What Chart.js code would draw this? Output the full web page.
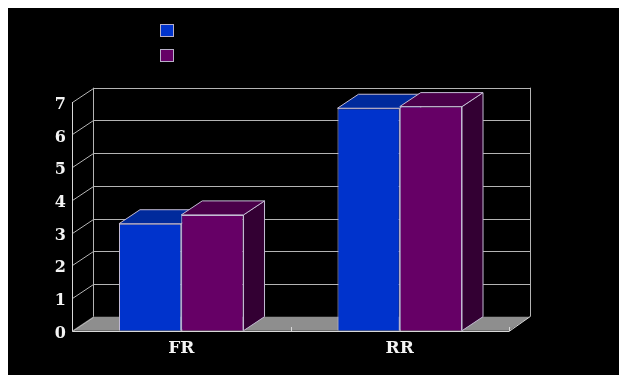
<!DOCTYPE html>
<html>
<head>
<meta charset="utf-8">
<script src="https://cdn.jsdelivr.net/npm/chart.js@4/dist/chart.umd.min.js"></script>
<style>
  html, body { margin: 0; padding: 0; background: #ffffff; }
  #wrap { position: absolute; left: 8px; top: 8px; width: 611px; height: 367px; background: #000000; }
  canvas { display: block; }
</style>
</head>
<body>
<div id="wrap"><canvas id="c" width="611" height="367"></canvas></div>
<script>
// Categories and the two series
const categories = ['FR', 'RR'];
const seriesA = [3.27, 6.80];
const seriesB = [3.54, 6.85];
const yTicks = [0, 1, 2, 3, 4, 5, 6, 7];

// Depth of the pseudo-3D box (pixels right / up)
const DX = 21, DY = 14;

const faceColors = [
  { front: '#0033cc', top: '#002a9c', side: '#001f70' },
  { front: '#660066', top: '#4a004a', side: '#330033' }
];
const edgeColor = '#c4bcd4';
const gridColor = '#b4b4b4';

function quad(ctx, pts, fill, stroke) {
  ctx.beginPath();
  ctx.moveTo(pts[0][0], pts[0][1]);
  for (let i = 1; i < pts.length; i++) ctx.lineTo(pts[i][0], pts[i][1]);
  ctx.closePath();
  if (fill) { ctx.fillStyle = fill; ctx.fill(); }
  if (stroke) { ctx.strokeStyle = stroke; ctx.lineWidth = 1; ctx.stroke(); }
}

const box3d = {
  id: 'box3d',
  beforeDatasetsDraw(chart) {
    const ctx = chart.ctx;
    const xs = chart.scales.x, ys = chart.scales.y;
    const L = xs.left, R = xs.right;
    const y0 = ys.getPixelForValue(0);
    const yTop = ys.getPixelForValue(yTicks[yTicks.length - 1]);
    ctx.save();
    ctx.lineWidth = 1;

    // floor
    quad(ctx, [[L, y0], [R, y0], [R + DX, y0 - DY], [L + DX, y0 - DY]], '#8e8e8e', null);

    // back wall gridlines and side connectors
    ctx.strokeStyle = gridColor;
    ctx.beginPath();
    yTicks.forEach(v => {
      const p = Math.round(ys.getPixelForValue(v)) + 0.5;
      if (v > 0) {
        ctx.moveTo(L + DX, p - DY);
        ctx.lineTo(R + DX, p - DY);
      }
      ctx.moveTo(L + 0.5, p);
      ctx.lineTo(L + DX + 0.5, p - DY);
    });
    // back wall verticals
    ctx.moveTo(L + DX + 0.5, y0 - DY);
    ctx.lineTo(L + DX + 0.5, yTop - DY);
    ctx.moveTo(R + DX + 0.5, y0 - DY);
    ctx.lineTo(R + DX + 0.5, yTop - DY);
    ctx.stroke();

    // front axis lines
    ctx.strokeStyle = '#d8d8d8';
    ctx.beginPath();
    ctx.moveTo(L + 0.5, Math.round(yTop));
    ctx.lineTo(L + 0.5, Math.round(y0) + 0.5);
    ctx.lineTo(R, Math.round(y0) + 0.5);
    ctx.lineTo(R + DX, y0 - DY);
    // category separators on the floor edge
    const n = categories.length;
    for (let i = 1; i <= n; i++) {
      const bx = Math.round(L + (R - L) * i / n) + 0.5;
      ctx.moveTo(bx, Math.round(y0));
      ctx.lineTo(bx, Math.round(y0) - 4);
    }
    ctx.stroke();

    // tops and sides of every bar
    chart.data.datasets.forEach((ds, di) => {
      const meta = chart.getDatasetMeta(di);
      meta.data.forEach(bar => {
        const l = bar.x - bar.width / 2, r = bar.x + bar.width / 2;
        const t = bar.y, b = bar.base;
        quad(ctx, [[r, t], [r + DX, t - DY], [r + DX, b - DY], [r, b]], faceColors[di].side, edgeColor);
        quad(ctx, [[l, t], [r, t], [r + DX, t - DY], [l + DX, t - DY]], faceColors[di].top, edgeColor);
      });
    });
    ctx.restore();
  },
  afterDraw(chart) {
    // legend swatches
    const ctx = chart.ctx;
    ctx.save();
    chart.data.datasets.forEach((ds, i) => {
      const x = 152.5, y = 16.5 + i * 25;
      ctx.fillStyle = ds.backgroundColor;
      ctx.fillRect(x, y, 13, 12);
      ctx.strokeStyle = '#b8b0c8';
      ctx.lineWidth = 1;
      ctx.strokeRect(x, y, 13, 12);
    });
    ctx.restore();
  }
};

new Chart(document.getElementById('c'), {
  type: 'bar',
  data: {
    labels: categories,
    datasets: [
      { label: 'A', data: seriesA, backgroundColor: faceColors[0].front, borderColor: edgeColor, borderWidth: 1 },
      { label: 'B', data: seriesB, backgroundColor: faceColors[1].front, borderColor: edgeColor, borderWidth: 1 }
    ]
  },
  options: {
    responsive: false,
    animation: false,
    devicePixelRatio: 1,
    layout: { padding: { left: 0, right: 110, top: 93.7, bottom: 0 } },
    plugins: { legend: { display: false }, tooltip: { enabled: false } },
    datasets: { bar: { categoryPercentage: 0.57, barPercentage: 1.0 } },
    scales: {
      x: {
        grid: { display: false, drawTicks: false },
        border: { display: false },
        ticks: { color: '#f4f4f4', padding: 8, font: { family: 'DejaVu Serif', size: 17, weight: 'bold' } },
        afterFit(s) { s.height = 44.3; }
      },
      y: {
        min: 0, max: 7,
        grid: { display: false, drawTicks: false },
        border: { display: false },
        ticks: {
          stepSize: 1, color: '#f4f4f4', padding: 6, labelOffset: 3,
          font: { family: 'DejaVu Serif', size: 16, weight: 'bold' }
        },
        afterFit(s) { s.width = 64; }
      }
    }
  },
  plugins: [box3d]
});
</script>
</body>
</html>
